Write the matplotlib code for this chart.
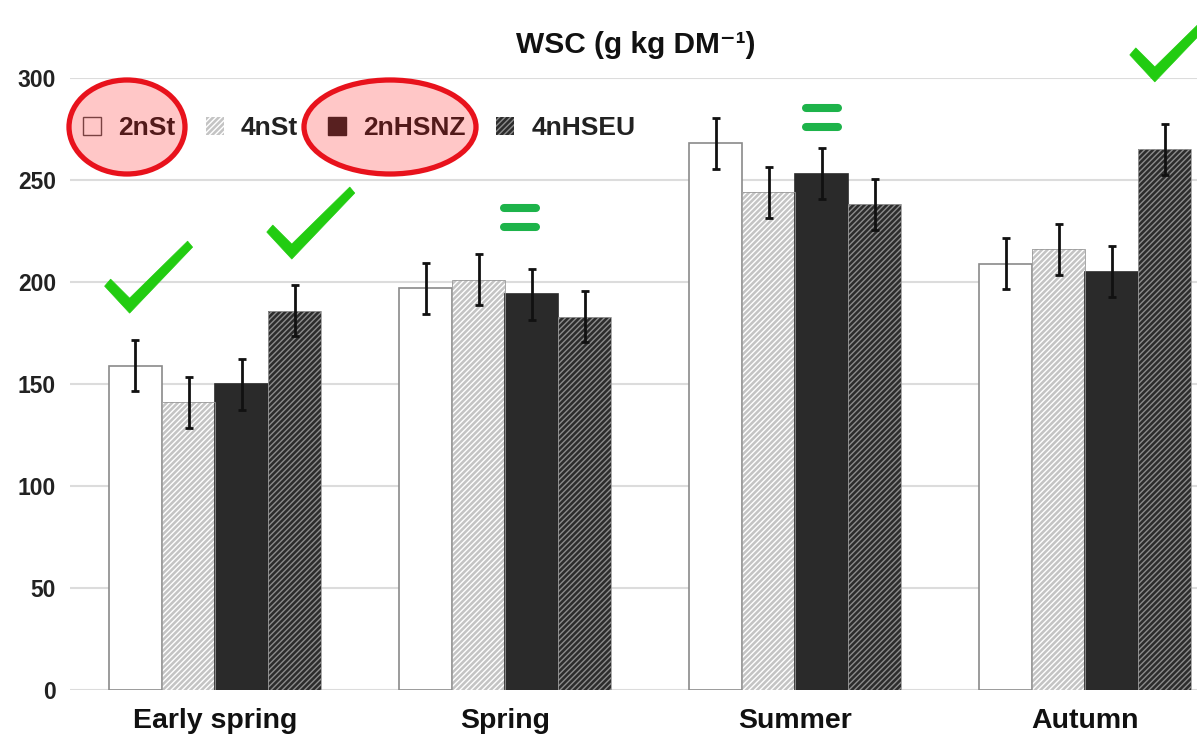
import numpy as np
import matplotlib.pyplot as plt
from matplotlib.patches import Ellipse, Polygon, Patch
from matplotlib.transforms import ScaledTranslation

seasons = ['Early spring', 'Spring', 'Summer', 'Autumn']
groups = ['2nSt', '4nSt', '2nHSNZ', '4nHSEU']

wsc_2nSt = [159, 197, 268, 209]
wsc_4nSt = [141, 201, 244, 216]
wsc_2nHSNZ = [150, 194, 253, 205]
wsc_4nHSEU = [186, 183, 238, 265]

err_2nSt = [12.5, 12.5, 12.5, 12.5]
err_4nSt = [12.5, 12.5, 12.5, 12.5]
err_2nHSNZ = [12.5, 12.5, 12.5, 12.5]
err_4nHSEU = [12.5, 12.5, 12.5, 12.5]

plt.rcParams['font.family'] = ['Liberation Sans', 'DejaVu Sans']
plt.rcParams['hatch.linewidth'] = 1.0

fig = plt.figure(figsize=(11.97, 7.39), dpi=100)
ax = fig.add_axes([70 / 1197, 49 / 739, 1 - 70 / 1197, (690 - 78) / 739])

x = np.arange(len(seasons))
w = 0.183
styles = [
    dict(face='white', hatch=None, hcol=None),
    dict(face='#c4c4c4', hatch='//////', hcol='white'),
    dict(face='#2a2a2a', hatch=None, hcol=None),
    dict(face='#2c2c2c', hatch='//////', hcol='#8c8c8c'),
]
values = [wsc_2nSt, wsc_4nSt, wsc_2nHSNZ, wsc_4nHSEU]
errors = [err_2nSt, err_4nSt, err_2nHSNZ, err_4nHSEU]

for i, (vals, errs, st) in enumerate(zip(values, errors, styles)):
    xi = x + (i - 1.5) * w
    if st['hatch']:
        ax.bar(xi, vals, w, color=st['face'], edgecolor=st['hcol'],
               hatch=st['hatch'], linewidth=0, zorder=2)
        ax.bar(xi, vals, w, fill=False, edgecolor='#9a9a9a', linewidth=0.6, zorder=3)
    else:
        ec = '#8a8a8a' if st['face'] == 'white' else st['face']
        ax.bar(xi, vals, w, color=st['face'], edgecolor=ec, linewidth=1.2, zorder=2)
    ax.errorbar(xi, vals, yerr=errs, fmt='none', ecolor='#111111',
                elinewidth=2, capsize=3, capthick=2, zorder=4)

ax.set_xlim(-0.5, 3.385)
ax.set_ylim(0, 300)
ax.set_yticks(range(0, 301, 50))
ax.set_xticks(x)
ax.set_xticklabels(seasons, fontsize=20.5, fontweight='bold', color='#111111')
for lab in ax.get_yticklabels():
    lab.set_fontweight('bold')
ax.tick_params(axis='y', length=0, pad=10, labelsize=16.5, labelcolor='#222222')
ax.tick_params(axis='x', length=0, pad=13)
ax.grid(axis='y', color='#dcdcdc', linewidth=1.5, zorder=0)
ax.set_axisbelow(True)
for s in ax.spines.values():
    s.set_visible(False)

fig.text(636 / 1197, 1 - 45 / 739, 'WSC (g kg DM\u207b\u00b9)', ha='center', va='center',
         fontsize=21.5, fontweight='bold', color='#111111')

# legend in one row across the top left
handles = [
    Patch(facecolor='white', edgecolor='#555555', linewidth=1),
    Patch(facecolor='#c4c4c4', edgecolor='white', hatch='//////', linewidth=0),
    Patch(facecolor='#2a2a2a', edgecolor='#2a2a2a'),
    Patch(facecolor='#2c2c2c', edgecolor='#8c8c8c', hatch='//////', linewidth=0),
]
leg = ax.legend(handles, groups, ncol=4, frameon=False, loc='center left',
                bbox_to_anchor=(13 / 1127, 1 - (128 - 78) / 612),
                prop=dict(weight='bold', size=19), handlelength=0.68, handleheight=0.68,
                handletextpad=0.65, columnspacing=1.15, borderaxespad=0.0, borderpad=0.0)
for t in leg.get_texts():
    t.set_color('#222222')

# highlight rings around two legend entries
def ring(cx, cy, wd, ht):
    e = Ellipse((cx / 100, (739 - cy) / 100), wd / 100, ht / 100,
                transform=fig.dpi_scale_trans, facecolor=(1, 0, 0, 0.22),
                edgecolor='#e8121c', linewidth=3.8, zorder=10)
    fig.patches.append(e)

ring(127, 127, 116, 94)
ring(390, 127, 172, 94)

# green tick and equals marks above the bars
green_tick = '#22cc11'
green_eq = '#1db34a'
tick_shape = np.array([(0, 0), (-25, 27), (-19, 34), (0, 15), (58, 72), (63, 66)]) / 100.0

def tick_mark(xd, yd, dy):
    tr = fig.dpi_scale_trans + ScaledTranslation(xd, yd, ax.transData)
    pts = tick_shape + np.array([0, dy / 100.0])
    ax.add_patch(Polygon(pts, closed=True, transform=tr, facecolor=green_tick,
                         edgecolor=green_tick, linewidth=0.5, clip_on=False, zorder=6))

def equals_mark(xd, yd, dy):
    tr = fig.dpi_scale_trans + ScaledTranslation(xd, yd, ax.transData)
    for off in (dy, dy + 19):
        ax.plot([-0.16, 0.16], [off / 100.0, off / 100.0], transform=tr, color=green_eq,
                linewidth=5.8, solid_capstyle='round', clip_on=False, zorder=6)

tick_mark(x[0] - 1.5 * w - 0.02, wsc_2nSt[0] + err_2nSt[0], 27)
tick_mark(x[0] + 1.5 * w - 0.01, wsc_4nHSEU[0] + err_4nHSEU[0], 26)
tick_mark(x[3] + 1.5 * w - 0.035, wsc_4nHSEU[3] + err_4nHSEU[3], 42)
equals_mark(x[1] + 0.5 * w - 0.04, wsc_2nHSNZ[1] + err_2nHSNZ[1], 42)
equals_mark(x[2] + 0.5 * w, wsc_2nHSNZ[2] + err_2nHSNZ[2], 21)

fig.savefig('out.png', dpi=100)
